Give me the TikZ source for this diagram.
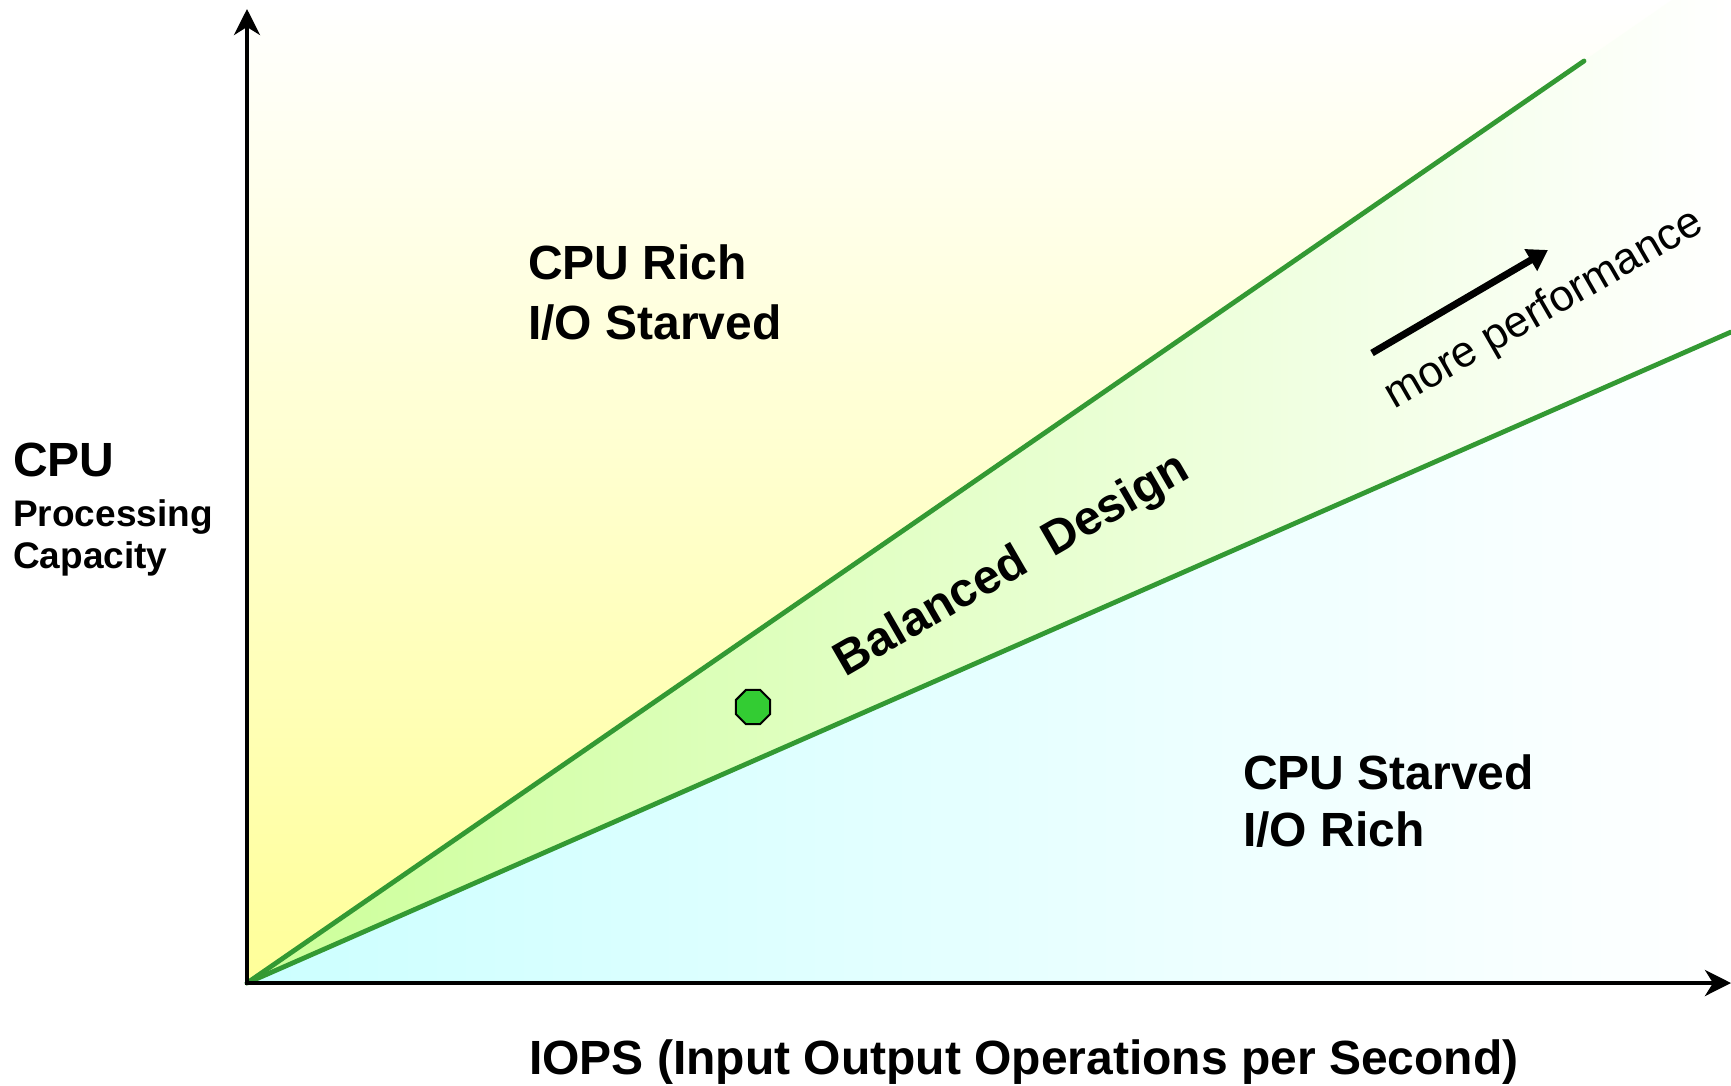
\documentclass[tikz,border=0pt]{standalone}
\usepackage{fontspec}
\setmainfont{Liberation Sans}
\usetikzlibrary{arrows.meta,shapes.geometric}
\definecolor{ylw}{HTML}{FFFF99}
\definecolor{cyn}{HTML}{CCFFFF}
\definecolor{grnfill}{HTML}{CCFF99}
\definecolor{lgreen}{HTML}{339933}
\definecolor{dotgreen}{HTML}{33CC33}
\begin{document}
\begin{tikzpicture}[x=1pt,y=-1pt,
  axis/.style={line width=4pt, line cap=rect, -{Stealth[length=26pt,width=26pt,inset=8pt]}},
  bound/.style={line width=4.8pt, draw=lgreen, line cap=round},
  bigA/.style={font=\bfseries\fontsize{48}{60}\selectfont, inner sep=0pt, align=left},
  bigB/.style={font=\bfseries\fontsize{48}{57}\selectfont, inner sep=0pt, align=left},
  midlbl/.style={font=\bfseries\fontsize{37}{42}\selectfont, inner sep=0pt, align=left},
  perflbl/.style={font=\fontsize{44}{50}\selectfont, inner sep=0pt},
  dotstyle/.style={regular polygon, regular polygon sides=8, draw=black, fill=dotgreen, line width=2pt, minimum size=37pt, inner sep=0pt}
]
\fill[white] (0,0) rectangle (1731,1085);
\useasboundingbox (0,0) rectangle (1731,1085);
\coordinate (O) at (247,983);
\coordinate (Ytip) at (247,9);
\coordinate (Xtip) at (1731,983);
\coordinate (Uend) at (1584,61);
\coordinate (Lend) at (1731,332);
\coordinate (Utop) at (1672,0);
\coordinate (Ycorner) at (247,0);
\coordinate (TR) at (1731,0);
% shaded regions
\shade[top color=white, bottom color=ylw] (O) -- (Ycorner) -- (Utop) -- cycle;
\shade[left color=grnfill, right color=white] (O) -- (Utop) -- (TR) -- (Lend) -- cycle;
\shade[left color=cyn, right color=white] (O) -- (Lend) -- (Xtip) -- cycle;
% boundary lines
\draw[bound] (O) -- (Uend);
\draw[bound] (O) -- (Lend);
% axes
\draw[axis] (O) -- (Ytip);
\draw[axis] (O) -- (Xtip);
% point
\node[dotstyle] (pt) at (753,707) {};
% labels
\node[bigA, anchor=north west] (rich) at (528,245) {CPU Rich\\I/O Starved};
\node[bigB, anchor=north west] (starved) at (1243,755) {CPU Starved\\I/O Rich};
\node[bigA, anchor=north west] (cpu) at (13,443) {CPU};
\node[midlbl, anchor=north west] (proc) at (13,499) {Processing\\Capacity};
\node[bigA, anchor=north west] (iops) at (529,1039) {IOPS (Input Output Operations per Second)};
\node[bigA, anchor=base, rotate=30] (bal) at (1019,577) {Balanced\ \ Design};
\node[perflbl, anchor=base, rotate=30] (perf) at (1550,320) {more performance};
% performance arrow
\coordinate (As) at (1372,353);
\coordinate (Ae) at (1548,250);
\draw[line width=7pt, -{Triangle[length=20pt,width=24pt]}] (As) -- (Ae);
\end{tikzpicture}
\end{document}
